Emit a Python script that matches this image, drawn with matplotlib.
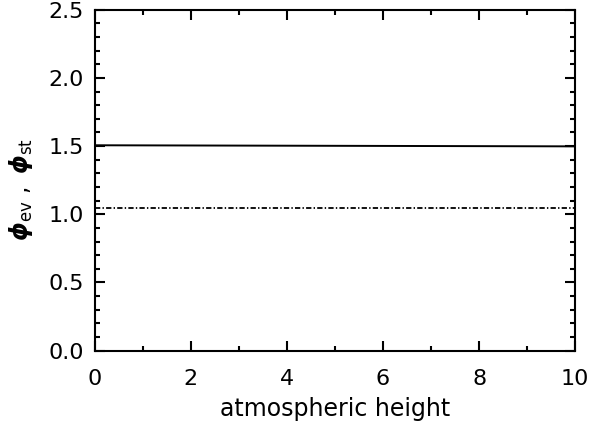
import numpy as np
import matplotlib
matplotlib.use("Agg")
import matplotlib.pyplot as plt
from matplotlib.ticker import MultipleLocator

# values
height = [0.0, 10.0]
phi_ev = [1.506, 1.498]
phi_st = [1.046, 1.046]

plt.rcParams['font.family'] = ['DejaVu Sans']
plt.rcParams['mathtext.fontset'] = 'dejavusans'
plt.rcParams['lines.scale_dashes'] = False

fig = plt.figure(figsize=(5.96, 4.21), dpi=100)
ax = fig.add_axes([0.159, 0.167, 0.806, 0.810])

ax.plot(height, phi_ev, color='black', linewidth=1.4, linestyle='-')
ax.plot(height, phi_st, color='black', linewidth=1.3,
        linestyle=(0, (3.8, 1.6, 1.0, 1.6)))

ax.set_xlim(0, 10)
ax.set_ylim(0, 2.5)
ax.xaxis.set_major_locator(MultipleLocator(2))
ax.xaxis.set_minor_locator(MultipleLocator(1))
ax.yaxis.set_major_locator(MultipleLocator(0.5))
ax.yaxis.set_minor_locator(MultipleLocator(0.1))
ax.yaxis.set_major_formatter(plt.FormatStrFormatter('%.1f'))

for s in ax.spines.values():
    s.set_linewidth(1.5)
ax.tick_params(which='both', direction='in', top=True, right=True,
               labelsize=16, width=1.5)
ax.tick_params(which='major', length=7.5)
ax.tick_params(which='minor', length=3.8)
ax.tick_params(axis='x', which='major', pad=13)
ax.tick_params(axis='y', which='major', pad=8)

ax.set_xlabel('atmospheric height', fontsize=17, labelpad=6)
ax.set_ylabel(r'$\boldsymbol{\phi}_{\rm ev}\ ,\ \boldsymbol{\phi}_{\rm st}$',
              fontsize=17)
ax.yaxis.set_label_coords(-0.125, 0.474)

fig.savefig('out.png', dpi=100)
